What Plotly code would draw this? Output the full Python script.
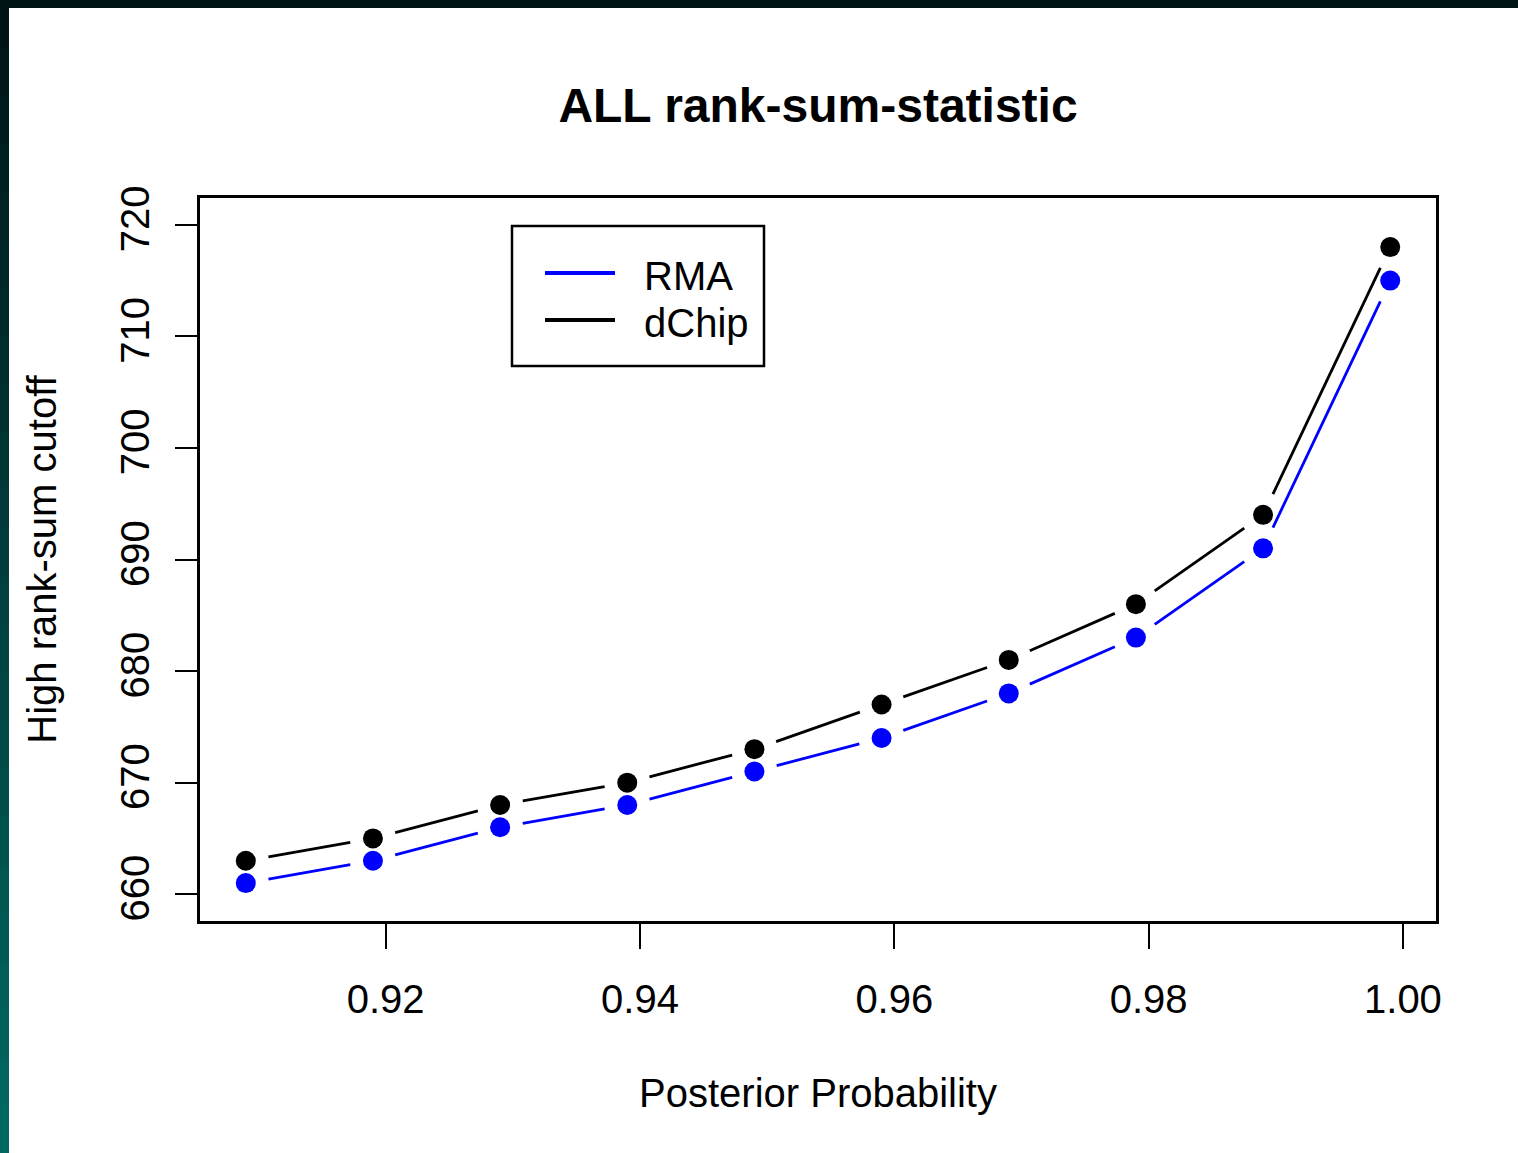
import math
import plotly.graph_objects as go

# ---- data ----
post_prob = [0.909, 0.919, 0.929, 0.939, 0.949, 0.959, 0.969, 0.979, 0.989, 0.999]
rma_cutoff = [661, 663, 666, 668, 671, 674, 678, 683, 691, 715]
dchip_cutoff = [663, 665, 668, 670, 673, 677, 681, 686, 694, 718]
series_names = ["RMA", "dChip"]
x_tick_vals = [0.92, 0.94, 0.96, 0.98, 1.00]
y_tick_vals = [660, 670, 680, 690, 700, 710, 720]

# ---- layout geometry ----
W, H = 1518, 1153
ML, MR, MT, MB = 200, 82, 198, 232
PW, PH = W - ML - MR, H - MT - MB

span = max(post_prob) - min(post_prob)
x_range = [min(post_prob) - 0.04 * span, max(post_prob) + 0.04 * span]
y_range = [660 - 0.04 * 60, 720 + 0.04 * 60]

FONT = "Liberation Sans, Arial, sans-serif"
COLORS = ["#0000FF", "#000000"]


def gapped(xs, ys, gap=23.0):
    """R type='b' style: line segments shortened near each point."""
    sx = PW / (x_range[1] - x_range[0])
    sy = PH / (y_range[1] - y_range[0])
    ox, oy = [], []
    for i in range(len(xs) - 1):
        x1, y1, x2, y2 = xs[i], ys[i], xs[i + 1], ys[i + 1]
        L = math.hypot((x2 - x1) * sx, (y2 - y1) * sy)
        if L <= 2 * gap:
            continue
        f = gap / L
        ox += [x1 + (x2 - x1) * f, x2 - (x2 - x1) * f, None]
        oy += [y1 + (y2 - y1) * f, y2 - (y2 - y1) * f, None]
    return ox, oy


fig = go.Figure()

for name, ys, col in zip(series_names, [rma_cutoff, dchip_cutoff], COLORS):
    gx, gy = gapped(post_prob, ys)
    fig.add_trace(go.Scatter(x=gx, y=gy, mode="lines", name=name,
                             line=dict(color=col, width=2.8), showlegend=False))
    fig.add_trace(go.Scatter(x=post_prob, y=ys, mode="markers", name=name,
                             marker=dict(color=col, size=20, line=dict(width=0)),
                             showlegend=False))


def pxx(px):
    return (px - ML) / PW


def pxy(py):
    return (H - MB - py) / PH


shapes = []
annotations = []

# dark frame strips around the picture
shapes.append(dict(type="rect", xref="paper", yref="paper",
                   x0=pxx(0), x1=pxx(W), y0=pxy(8), y1=pxy(0),
                   fillcolor="#001416", line=dict(width=0), layer="above"))
n = 24
c0 = (0x00, 0x14, 0x16)
c1 = (0x00, 0x68, 0x62)
for k in range(n):
    t = k / (n - 1)
    c = tuple(int(round(a + (b - a) * t)) for a, b in zip(c0, c1))
    shapes.append(dict(type="rect", xref="paper", yref="paper",
                       x0=pxx(0), x1=pxx(9),
                       y0=pxy(min(H, H * (k + 1) / n + 2)), y1=pxy(H * k / n),
                       fillcolor="rgb(%d,%d,%d)" % c, line=dict(width=0), layer="above"))

# legend box (R style)
shapes.append(dict(type="rect", xref="paper", yref="paper",
                   x0=pxx(512), x1=pxx(764), y0=pxy(366), y1=pxy(226),
                   fillcolor="white", line=dict(color="black", width=2.5), layer="above"))
for i, (name, col) in enumerate(zip(series_names, COLORS)):
    yy = 273 + 47 * i
    shapes.append(dict(type="line", xref="paper", yref="paper",
                       x0=pxx(545), x1=pxx(615), y0=pxy(yy), y1=pxy(yy),
                       line=dict(color=col, width=4), layer="above"))
    annotations.append(dict(text=name, xref="paper", yref="paper",
                            x=pxx(642), y=pxy(yy + 3), xanchor="left", yanchor="middle",
                            showarrow=False, font=dict(size=40, family=FONT, color="black")))

fig.update_layout(
    width=W, height=H,
    margin=dict(l=ML, r=MR, t=MT, b=MB),
    paper_bgcolor="white", plot_bgcolor="white",
    font=dict(family=FONT, color="black", size=40),
    showlegend=False,
    title=dict(text="<b>ALL rank-sum-statistic</b>", x=(ML + PW / 2) / W, xanchor="center",
               xref="container", yref="container", y=1 - 105 / H, yanchor="middle",
               font=dict(size=48, family=FONT, color="black")),
    xaxis=dict(range=x_range, tickvals=x_tick_vals, tickformat=".2f",
               showgrid=False, zeroline=False, showline=True, mirror=True,
               linecolor="black", linewidth=3, ticks="outside", ticklen=25,
               tickwidth=2, tickcolor="black", ticklabelstandoff=16,
               tickfont=dict(size=40),
               title=dict(text="Posterior Probability", font=dict(size=40), standoff=59)),
    yaxis=dict(range=y_range, tickvals=y_tick_vals, tickangle=-90,
               showgrid=False, zeroline=False, showline=True, mirror=True,
               linecolor="black", linewidth=3, ticks="outside", ticklen=22,
               tickwidth=2, tickcolor="black", ticklabelstandoff=10,
               tickfont=dict(size=40),
               title=dict(text="High rank-sum cutoff", font=dict(size=40), standoff=45)),
    shapes=shapes,
    annotations=annotations,
)

fig.write_html("out.html")
